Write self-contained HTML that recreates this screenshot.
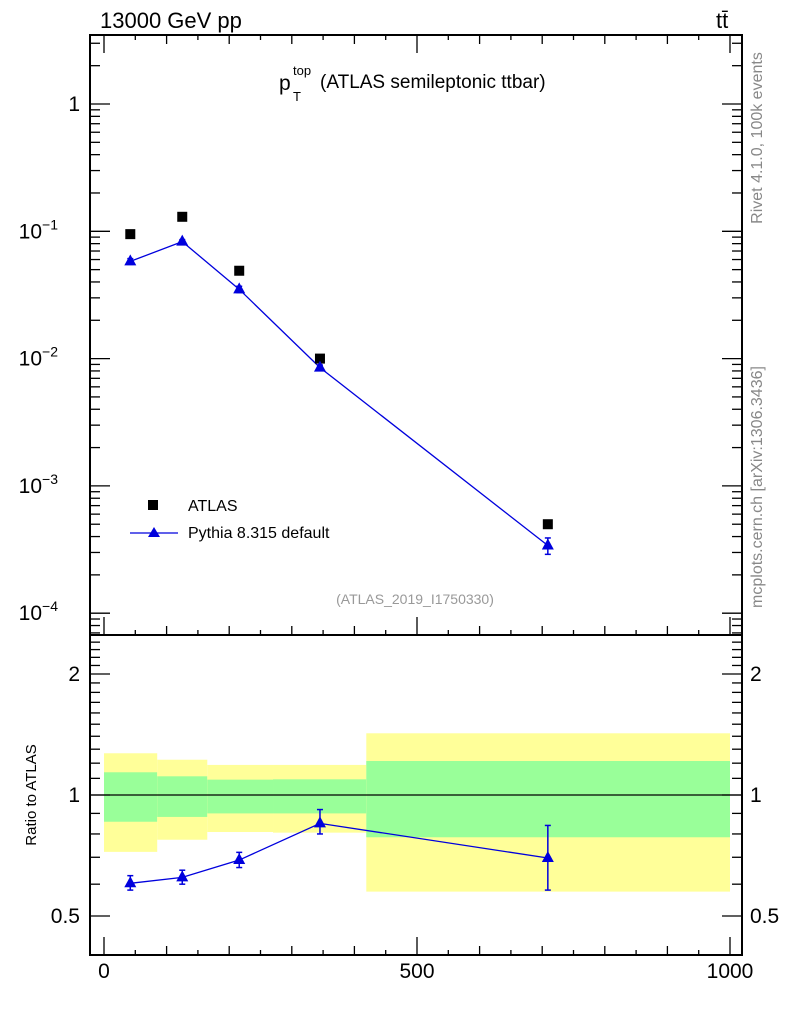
<!DOCTYPE html>
<html><head><meta charset="utf-8"><style>
body{margin:0;background:#fff;}
svg{display:block;font-family:"Liberation Sans",Arial,sans-serif;}
</style></head><body>
<svg id="c" width="786" height="1024">
<g id="bands"></g>
<g id="grid"></g>
<g id="marks"></g>
<text x="100" y="28" font-size="22">13000 GeV pp</text>
<text x="716" y="28" font-size="22">tt̄</text>
<g>
<text x="279" y="90" font-size="21">p</text>
<text x="293" y="75" font-size="13">top</text>
<text x="293" y="101" font-size="13">T</text>
<text x="320" y="88" font-size="19">(ATLAS semileptonic ttbar)</text>
</g>
<text x="415" y="604" font-size="14" fill="#999" text-anchor="middle">(ATLAS_2019_I1750330)</text>
<text transform="translate(762,138) rotate(-90)" font-size="16" fill="#888" text-anchor="middle">Rivet 4.1.0,  100k events</text>
<text transform="translate(762,487) rotate(-90)" font-size="16" fill="#888" text-anchor="middle">mcplots.cern.ch [arXiv:1306.3436]</text>
<text transform="translate(36,795) rotate(-90)" font-size="15" text-anchor="middle">Ratio to ATLAS</text>
<g>
<rect x="148" y="500" width="10" height="10" fill="#000"/>
<text x="188" y="511" font-size="16">ATLAS</text>
<line x1="130" y1="533" x2="178" y2="533" stroke="#0000dd" stroke-width="1.3"/>
<polygon points="154,527 160,537 148,537" fill="#0000dd"/>
<text x="188" y="538" font-size="16">Pythia 8.315 default</text>
</g>
</svg>
<script>
const xCenters=[42,125,216,345,709];
const binEdges=[0,85,165,270,419,1000];
const atlasVals=[0.095,0.13,0.049,0.0100,0.00050];
const pythiaVals=[0.058,0.083,0.035,0.0085,0.00034];
const pythiaErrLo=[0.055,0.080,0.033,0.0081,0.00029];
const pythiaErrHi=[0.061,0.086,0.037,0.0089,0.00039];
const ratioVals=[0.603,0.624,0.689,0.850,0.697];
const ratioErrLo=[0.58,0.60,0.66,0.80,0.58];
const ratioErrHi=[0.63,0.65,0.72,0.92,0.84];
const yellowHi=[1.270,1.224,1.188,1.188,1.424];
const greenHi=[1.139,1.113,1.092,1.094,1.215];
const greenLo=[0.858,0.882,0.900,0.900,0.785];
const yellowLo=[0.722,0.774,0.809,0.806,0.575];
const xTicks=[0,500,1000];
const mainYTicks=[1,0.1,0.01,0.001,0.0001];
const mainYLabels=["1","10","10","10","10"];
const mainYExps=["","−1","−2","−3","−4"];
const ratioTicks=[0.5,1,2];
const ratioLabels=["0.5","1","2"];

const NS="http://www.w3.org/2000/svg";
const L=90,R=742,T=35,MID=635,B=955;
const X=v=>104+v*0.626;
const Y=v=>104-Math.log10(v)*127.3;
const RY=v=>795-Math.log10(v)*402;
function mk(p,t,a){const e=document.createElementNS(NS,t);for(const k in a)e.setAttribute(k,a[k]);document.getElementById(p).appendChild(e);return e;}

for(let i=0;i<5;i++){
 const x0=X(binEdges[i]),x1=X(binEdges[i+1]);
 let e=mk('bands','rect',{x:x0,y:RY(yellowHi[i]),width:x1-x0,height:RY(yellowLo[i])-RY(yellowHi[i]),fill:'#ffff99'});
 
 
 e=mk('bands','rect',{x:x0,y:RY(greenHi[i]),width:x1-x0,height:RY(greenLo[i])-RY(greenHi[i]),fill:'#99ff99'});
 
 
}
mk('grid','rect',{x:L,y:T,width:R-L,height:MID-T,fill:'none',stroke:'#000','stroke-width':2});
mk('grid','rect',{x:L,y:MID,width:R-L,height:B-MID,fill:'none',stroke:'#000','stroke-width':2});
mk('grid','line',{x1:L,x2:R,y1:RY(1),y2:RY(1),stroke:'#000','stroke-width':1.3});
for(let v=0;v<=1000;v+=50){
 const len=v%500==0?18:(v%100==0?9:5);
 for(const [base,dir] of [[MID,-1],[B,-1],[T,1]]){
  mk('grid','line',{x1:X(v),x2:X(v),y1:base,y2:base+dir*len,stroke:'#000','stroke-width':1.3});
 }
}
xTicks.forEach(v=>{const t=mk('grid','text',{x:X(v),y:978,'font-size':21,'text-anchor':'middle'});t.textContent=v;
 
 });
for(let d=-5;d<=0;d++){for(let m=1;m<=9;m++){const v=m*Math.pow(10,d);const y=Y(v);if(y<T||y>MID)continue;
 const len=m==1?20:10;
 mk('grid','line',{x1:L,x2:L+len,y1:y,y2:y,stroke:'#000','stroke-width':1.3});
 mk('grid','line',{x1:R,x2:R-len,y1:y,y2:y,stroke:'#000','stroke-width':1.3});}}
mainYTicks.forEach((v,i)=>{const t=mk('grid','text',{x:mainYExps[i]?58:80,y:Y(v)+7,'font-size':21,'text-anchor':'end'});
 t.textContent=mainYLabels[i];
 if(mainYExps[i]){const s=document.createElementNS(NS,'tspan');s.setAttribute('font-size','14');s.setAttribute('dy','-9');s.textContent=mainYExps[i];t.appendChild(s);}
 
 });
for(let v=0.4;v<=2.51;v+=0.1){const y=RY(v);if(y<MID||y>B)continue;const major=[0.5,1,2].some(m=>Math.abs(m-v)<1e-6);
 const len=major?20:10;
 mk('grid','line',{x1:L,x2:L+len,y1:y,y2:y,stroke:'#000','stroke-width':1.3});
 mk('grid','line',{x1:R,x2:R-len,y1:y,y2:y,stroke:'#000','stroke-width':1.3});}
ratioTicks.forEach((v,i)=>{for(const [x,a] of [[80,'end'],[750,'start']]){const t=mk('grid','text',{x:x,y:RY(v)+7,'font-size':21,'text-anchor':a});t.textContent=ratioLabels[i];
 
 }});
const tri=(x,y)=>`${x},${y-7} ${x+6},${y+4} ${x-6},${y+4}`;
mk('marks','polyline',{points:xCenters.map((x,i)=>X(x)+','+Y(pythiaVals[i])).join(' '),fill:'none',stroke:'#0000dd','stroke-width':1.3});
mk('marks','polyline',{points:xCenters.map((x,i)=>X(x)+','+RY(ratioVals[i])).join(' '),fill:'none',stroke:'#0000dd','stroke-width':1.3});
xCenters.forEach((xv,i)=>{const x=X(xv);
 let e=mk('marks','rect',{x:x-5,y:Y(atlasVals[i])-5,width:10,height:10,fill:'#000'});
 
 
 for(const [f,lo,hi,vals] of [[Y,pythiaErrLo,pythiaErrHi,pythiaVals],[RY,ratioErrLo,ratioErrHi,ratioVals]]){
  mk('marks','line',{x1:x,x2:x,y1:f(lo[i]),y2:f(hi[i]),stroke:'#0000dd','stroke-width':1.5});
  mk('marks','line',{x1:x-3,x2:x+3,y1:f(lo[i]),y2:f(lo[i]),stroke:'#0000dd','stroke-width':1.5});
  mk('marks','line',{x1:x-3,x2:x+3,y1:f(hi[i]),y2:f(hi[i]),stroke:'#0000dd','stroke-width':1.5});
  e=mk('marks','polygon',{points:tri(x,f(vals[i])),fill:'#0000dd'});
  
  
 }
});
</script>
</body></html>
